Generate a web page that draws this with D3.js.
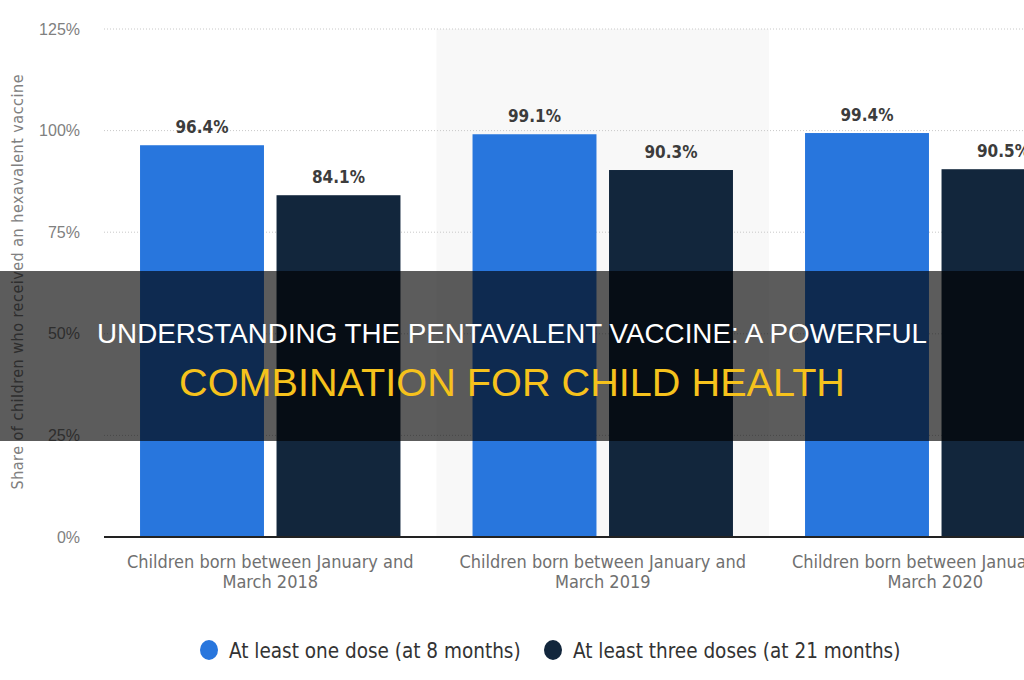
<!DOCTYPE html>
<html>
<head>
<meta charset="utf-8">
<script src="https://cdn.jsdelivr.net/npm/d3@7"></script>
<style>
  html, body { margin: 0; padding: 0; background: #fff; overflow: hidden; }
  svg { display: block; font-family: "DejaVu Sans Condensed", "DejaVu Sans", sans-serif; }
</style>
</head>
<body>
<script>
// chart data
var categories = [
  ["Children born between January and", "March 2018"],
  ["Children born between January and", "March 2019"],
  ["Children born between January and", "March 2020"]
];
var seriesNames = ["At least one dose (at 8 months)", "At least three doses (at 21 months)"];
var oneDose = [96.4, 99.1, 99.4];
var threeDoses = [84.1, 90.3, 90.5];
var yTicks = [0, 25, 50, 75, 100, 125];
var titleLines = ["UNDERSTANDING THE PENTAVALENT VACCINE: A POWERFUL", "COMBINATION FOR CHILD HEALTH"];

var w = 1024, h = 680;
var colors = ["#2876dd", "#12263c"];

var svg = d3.select("body").append("svg")
  .attr("width", w)
  .attr("height", h);

// scales (chart is wider than the window, last group gets cut at the edge)
var x0 = d3.scaleBand()
  .domain(d3.range(categories.length))
  .range([104, 1101.5]);

var x1 = d3.scaleBand()
  .domain(d3.range(seriesNames.length))
  .range([0, x0.bandwidth()])
  .paddingInner(0.092)
  .paddingOuter(0.264);

var y = d3.scaleLinear()
  .domain([0, 125])
  .range([537, 29]);

// shaded alternate band
svg.selectAll("rect.shade")
  .data(d3.range(categories.length).filter(function(i){ return i % 2 == 1; }))
  .enter().append("rect")
  .attr("class", "shade")
  .attr("x", function(d){ return x0(d); })
  .attr("y", y(125))
  .attr("width", x0.bandwidth())
  .attr("height", y(0) - y(125))
  .attr("fill", "#f8f8f8");

// grid lines
svg.selectAll("line.grid")
  .data(yTicks.filter(function(d){ return d > 0; }))
  .enter().append("line")
  .attr("class", "grid")
  .attr("x1", 104).attr("x2", w)
  .attr("y1", function(d){ return y(d); })
  .attr("y2", function(d){ return y(d); })
  .attr("stroke", "#c8c8c8")
  .attr("stroke-width", 1)
  .attr("stroke-dasharray", "1,2");

// y axis labels
var yAxis = svg.append("g")
  .attr("transform", "translate(80,0)")
  .call(d3.axisLeft(y).tickValues(yTicks).tickSize(0).tickPadding(0)
    .tickFormat(function(d){ return d + "%"; }));
yAxis.select(".domain").remove();
yAxis.selectAll("text")
  .attr("fill", "#808080")
  .style("font-size", "16px")
  .style("font-family", "inherit");

// y axis title
svg.append("text")
  .attr("transform", "translate(23," + 282 + ") rotate(-90)")
  .attr("text-anchor", "middle")
  .attr("fill", "#808080")
  .attr("textLength", 415)
  .attr("lengthAdjust", "spacing")
  .style("font-size", "16px")
  .text("Share of children who received an hexavalent vaccine");

// bars
var groups = svg.selectAll("g.cat")
  .data(categories.map(function(c, i){ return [oneDose[i], threeDoses[i]]; }))
  .enter().append("g")
  .attr("class", "cat")
  .attr("transform", function(d, i){ return "translate(" + x0(i) + ",0)"; });

groups.selectAll("rect")
  .data(function(d){ return d; })
  .enter().append("rect")
  .attr("x", function(d, j){ return x1(j); })
  .attr("y", function(d){ return y(d); })
  .attr("width", x1.bandwidth())
  .attr("height", function(d){ return y(0) - y(d); })
  .attr("fill", function(d, j){ return colors[j]; });

groups.selectAll("text.val")
  .data(function(d){ return d; })
  .enter().append("text")
  .attr("class", "val")
  .attr("x", function(d, j){ return x1(j) + x1.bandwidth() / 2; })
  .attr("y", function(d){ return y(d) - 12; })
  .attr("text-anchor", "middle")
  .attr("fill", "#3c3c3c")
  .style("font-size", "17px")
  .style("font-weight", "bold")
  .text(function(d){ return d.toFixed(1) + "%"; });

// baseline
svg.append("line")
  .attr("x1", 104).attr("x2", w)
  .attr("y1", y(0)).attr("y2", y(0))
  .attr("stroke", "#222")
  .attr("stroke-width", 2);

// x labels
var xl = svg.selectAll("text.xl")
  .data(categories)
  .enter().append("text")
  .attr("class", "xl")
  .attr("text-anchor", "middle")
  .attr("fill", "#707070")
  .style("font-size", "18px");
xl.selectAll("tspan")
  .data(function(d, i){ return d.map(function(s){ return {s: s, i: i}; }); })
  .enter().append("tspan")
  .attr("x", function(d){ return x0(d.i) + x0.bandwidth() / 2; })
  .attr("y", function(d, k){ return 568 + k * 20; })
  .text(function(d){ return d.s; });

// legend
var legendX = [209, 553];
var legend = svg.selectAll("g.leg")
  .data(seriesNames)
  .enter().append("g")
  .attr("class", "leg")
  .attr("transform", function(d, i){ return "translate(" + legendX[i] + ",650)"; });
legend.append("ellipse")
  .attr("rx", 9).attr("ry", 10)
  .attr("fill", function(d, i){ return colors[i]; });
legend.append("text")
  .attr("x", 20)
  .attr("y", 8)
  .attr("fill", "#333")
  .style("font-size", "20.5px")
  .text(function(d){ return d; });

// banner overlay
svg.append("rect")
  .attr("x", 0).attr("y", 271)
  .attr("width", w).attr("height", 170)
  .attr("fill", "rgba(0,0,0,0.64)");

var titleColors = ["#ffffff", "#f6c21c"];
var titleWidths = [830, 666];
var titleSizes = [28, 39];
var titleY = [343, 396];
svg.selectAll("text.title")
  .data(titleLines)
  .enter().append("text")
  .attr("class", "title")
  .attr("x", w / 2)
  .attr("y", function(d, i){ return titleY[i]; })
  .attr("text-anchor", "middle")
  .attr("fill", function(d, i){ return titleColors[i]; })
  .attr("textLength", function(d, i){ return titleWidths[i]; })
  .attr("lengthAdjust", "spacingAndGlyphs")
  .style("font-family", "'Liberation Sans', Arial, sans-serif")
  .style("font-size", function(d, i){ return titleSizes[i] + "px"; })
  .text(function(d){ return d; });
</script>
</body>
</html>
